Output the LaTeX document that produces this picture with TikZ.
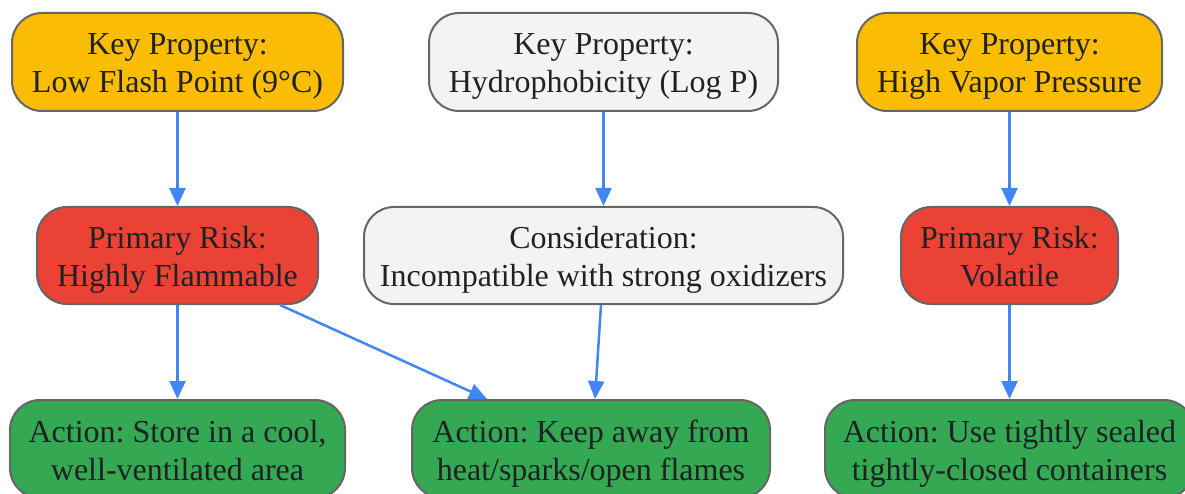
\documentclass[tikz,border=0pt]{standalone}
\usepackage{fontspec}
\setmainfont{Liberation Serif}
\usetikzlibrary{arrows.meta,calc}
\definecolor{kyellow}{HTML}{FBBC04}
\definecolor{kred}{HTML}{EA4335}
\definecolor{kgreen}{HTML}{34A853}
\definecolor{kgray}{HTML}{F1F3F4}
\definecolor{kborder}{HTML}{666666}
\definecolor{ktext}{HTML}{202124}
\definecolor{kblue}{HTML}{4285F4}
\frenchspacing
\begin{document}
\begin{tikzpicture}[x=1pt,y=-1pt,
  box/.style={draw=kborder, line width=2pt, rounded corners=30pt, align=center,
    font=\fontsize{32}{38}\selectfont, text=ktext, inner sep=0pt,
    execute at begin node={\rule[-8pt]{0pt}{78pt}}},
  link/.style={draw=kblue, line width=2.5pt, -{Triangle[length=18pt,width=16pt]}}]
\useasboundingbox (0,0) rectangle (1185,494);
\node[box, fill=kyellow, minimum width=331pt, minimum height=98pt] (A) at (177.5,62) {Key Property:\\Low Flash Point (9°C)};
\node[box, fill=kgray, minimum width=349pt, minimum height=98pt] (B) at (603.5,62) {Key Property:\\Hydrophobicity (Log P)};
\node[box, fill=kyellow, minimum width=305pt, minimum height=98pt] (C) at (1009.5,62) {Key Property:\\High Vapor Pressure};
\node[box, fill=kred, minimum width=281pt, minimum height=97pt] (D) at (177.5,255.5) {Primary Risk:\\Highly Flammable};
\node[box, fill=kgray, minimum width=479pt, minimum height=97pt] (E) at (603.5,255.5) {Consideration:\\Incompatible with strong oxidizers};
\node[box, fill=kred, minimum width=217pt, minimum height=97pt] (F) at (1009.5,255.5) {Primary Risk:\\Volatile};
\node[box, fill=kgreen, minimum width=335pt, minimum height=98pt] (G) at (177.5,449) {Action: Store in a cool,\\well-ventilated area};
\node[box, fill=kgreen, minimum width=358pt, minimum height=98pt] (H) at (591,449) {Action: Keep away from\\heat/sparks/open flames};
\node[box, fill=kgreen, minimum width=369pt, minimum height=98pt] (I) at (1009.5,449) {Action: Use tightly sealed\\tightly-closed containers};
\draw[link] (A) -- (D);
\draw[link] (B) -- (E);
\draw[link] (C) -- (F);
\draw[link] (D) -- (G);
\draw[link] (F) -- (I);
\draw[link] ($(D.south)+(102.5,0)$) -- ($(H.north)+(-104,0)$);
\draw[link] ($(E.south)+(-2.5,0)$) -- ($(H.north)+(4,0)$);
\end{tikzpicture}
\end{document}
